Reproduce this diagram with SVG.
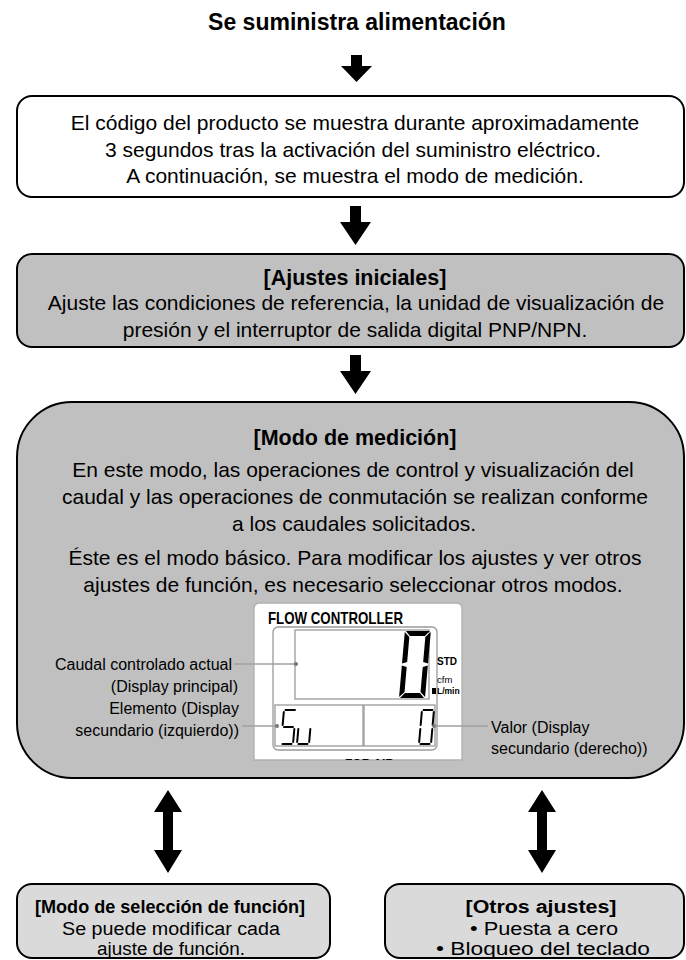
<svg xmlns="http://www.w3.org/2000/svg" width="686" height="960" viewBox="0 0 686 960">
<style>
.t{font-family:"Liberation Sans",Arial,sans-serif;fill:#000;text-anchor:middle}
.b{font-weight:bold}
.body{font-size:21px}
.head{font-size:21.5px;font-weight:bold}
.sm{font-size:18px}
.lab{font-family:"Liberation Sans",Arial,sans-serif;font-size:16px;fill:#000}
.nar{font-family:"Liberation Sans Narrow","Liberation Sans",Arial,sans-serif}
.box{stroke:#000;stroke-width:2}
.lcdl{fill:none;stroke:#9a9a9a;stroke-width:1.3}
.seg{fill:#000}
.thin{stroke:#000;stroke-width:2;stroke-linecap:round;fill:none}
.lead{stroke:#a0a0a0;stroke-width:1.3}
.dot{fill:#777}
</style>
<defs>
<clipPath id="panelClip"><rect x="250" y="600" width="215" height="160"/></clipPath>
</defs>
<rect width="686" height="960" fill="#fff"/>

<g id="start">
<text class="t b" x="357" y="30" font-size="23">Se suministra alimentación</text>
</g>

<g id="connectors" fill="#000">
<path d="M351,55 H362 V66 H372 L356.5,82 L341,66 H351 Z"/>
<path d="M350,206 H361 V222 H371 L355.5,245 L340,222 H350 Z"/>
<path d="M350,355 H361 V371 H371 L355.5,394 L340,371 H350 Z"/>
<path d="M168,790 L182,812 H173 V850 H182 L168,873 L154,850 H163 V812 H154 Z"/>
<path d="M542,790 L556,812 H547 V850 H556 L542,873 L528,850 H537 V812 H528 Z"/>
</g>

<g id="n1">
<rect class="box" x="17" y="96" width="667" height="101" rx="15" fill="#fff"/>
<text class="t body" x="355" y="130">El código del producto se muestra durante aproximadamente</text>
<text class="t body" x="353" y="157">3 segundos tras la activación del suministro eléctrico.</text>
<text class="t body" x="355" y="183">A continuación, se muestra el modo de medición.</text>
</g>

<g id="n2">
<rect class="box" x="17" y="254" width="667" height="93" rx="15" fill="#c0c0c0"/>
<text class="t head" x="355" y="285">[Ajustes iniciales]</text>
<text class="t body" x="356" y="310">Ajuste las condiciones de referencia, la unidad de visualización de</text>
<text class="t body" x="355" y="337">presión y el interruptor de salida digital PNP/NPN.</text>
</g>

<g id="n3">
<rect class="box" x="17" y="402" width="667" height="376" rx="55" fill="#c0c0c0"/>
<text class="t head" x="355" y="445">[Modo de medición]</text>
<text class="t body" x="353" y="477">En este modo, las operaciones de control y visualización del</text>
<text class="t body" x="355" y="504">caudal y las operaciones de conmutación se realizan conforme</text>
<text class="t body" x="354" y="531">a los caudales solicitados.</text>
<text class="t body" x="355" y="565">Éste es el modo básico. Para modificar los ajustes y ver otros</text>
<text class="t body" x="353" y="592">ajustes de función, es necesario seleccionar otros modos.</text>

<g id="lcd">
<path d="M254,760 V609 Q254,603 260,603 H456 Q462,603 462,609 V760 Z" fill="#fff" stroke="#b0b0b0" stroke-width="1.3"/>
<text class="nar" x="268" y="624" font-weight="bold" font-size="17" textLength="135" lengthAdjust="spacingAndGlyphs">FLOW CONTROLLER</text>
<rect class="lcdl" x="273" y="627" width="164" height="123" rx="5"/>
<rect class="lcdl" x="295" y="630" width="134" height="69"/>
<rect class="lcdl" x="275" y="705" width="88" height="41"/>
<rect class="lcdl" x="364" y="705" width="71" height="41"/>
<g transform="translate(399,698) skewX(-5)">
<polygon class="seg" points="1,-67 25,-67 20.5,-62 5.5,-62"/>
<polygon class="seg" points="1,0 25,0 20.5,-5 5.5,-5"/>
<polygon class="seg" points="0,-66 5,-61 5,-36 0,-34.5"/>
<polygon class="seg" points="0,-32.5 5,-31 5,-6 0,-1"/>
<polygon class="seg" points="26,-66 21,-61 21,-36 26,-34.5"/>
<polygon class="seg" points="26,-32.5 21,-31 21,-6 26,-1"/>
</g>
<g transform="translate(281,744) skewX(-5)">
<path class="thin" d="M1.5,-34 H11 M0,-32 V-19 M1.5,-17 H10.5 M12,-15 V-2 M1.5,0 H10.5"/>
</g>
<g transform="translate(297,744) skewX(-5)">
<path class="thin" d="M0,-15 V-2 M1.5,0 H10.5 M12,-15 V-2"/>
</g>
<g transform="translate(419,744) skewX(-5)">
<path class="thin" d="M1.5,-34 H10.5 M0,-32 V-19 M0,-15 V-2 M1.5,0 H10.5 M12,-32 V-19 M12,-15 V-2"/>
</g>
<text class="nar" x="437" y="665" font-weight="bold" font-size="10">STD</text>
<text class="nar" x="437" y="683" font-size="9.5">cfm</text>
<rect x="432" y="688" width="4" height="6" fill="#000"/>
<text class="nar" x="437" y="694" font-weight="bold" font-size="8.5">L/min</text>
<g clip-path="url(#panelClip)">
<text class="nar" x="345" y="768" font-weight="bold" font-size="12">FOR AIR</text>
</g>
<line class="lead" x1="234" y1="664" x2="296" y2="664"/>
<line class="lead" x1="242" y1="726" x2="277" y2="726"/>
<line class="lead" x1="434" y1="726" x2="488" y2="726"/>
<circle class="dot" cx="296" cy="664" r="2"/>
<circle class="dot" cx="277" cy="726" r="2"/>
<circle class="dot" cx="434" cy="726" r="2"/>
</g>
<text class="lab" x="232" y="670" text-anchor="end">Caudal controlado actual</text>
<text class="lab" x="238" y="692" text-anchor="end">(Display principal)</text>
<text class="lab" x="239" y="714" text-anchor="end">Elemento (Display</text>
<text class="lab" x="239" y="736" text-anchor="end">secundario (izquierdo))</text>
<text class="lab" x="491" y="733">Valor (Display</text>
<text class="lab" x="491" y="754">secundario (derecho))</text>
</g>

<g id="n4">
<rect class="box" x="17" y="884" width="313" height="74" rx="15" fill="#dadada"/>
<text class="t b" x="170" y="913" font-size="17.5" textLength="270" lengthAdjust="spacingAndGlyphs">[Modo de selección de función]</text>
<text class="t sm" x="171" y="935" textLength="218" lengthAdjust="spacingAndGlyphs">Se puede modificar cada</text>
<text class="t sm" x="171" y="955" textLength="148" lengthAdjust="spacingAndGlyphs">ajuste de función.</text>
</g>

<g id="n5">
<rect class="box" x="385" y="884" width="299" height="74" rx="15" fill="#dadada"/>
<text class="t b" x="541" y="913" font-size="18" textLength="151" lengthAdjust="spacingAndGlyphs">[Otros ajustes]</text>
<text class="t sm" x="544" y="935" textLength="148" lengthAdjust="spacingAndGlyphs">•  Puesta a cero</text>
<text class="t sm" x="543" y="955" textLength="214" lengthAdjust="spacingAndGlyphs">•  Bloqueo del teclado</text>
</g>
</svg>
